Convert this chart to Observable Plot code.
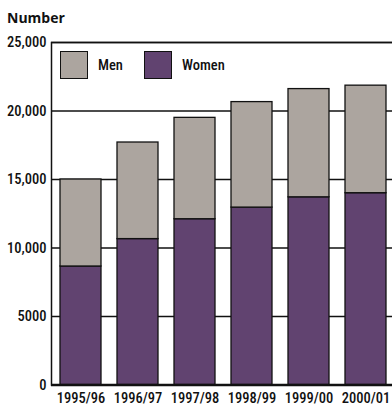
<!DOCTYPE html>
<html>
<head>
<meta charset="utf-8">
<script src="https://cdn.jsdelivr.net/npm/d3@7"></script>
<script src="https://cdn.jsdelivr.net/npm/@observablehq/plot@0.6"></script>
<style>
  html, body { margin: 0; padding: 0; background: #fff; overflow: hidden; }
  #wrap { position: relative; width: 392px; height: 409px; overflow: hidden; }
  #title { position: absolute; left: 7px; top: 8px; font: bold 14px "Open Sans", sans-serif; color: #111; }
  .legend { position: absolute; top: 51px; display: flex; align-items: center; font: 500 14.5px "Roboto Condensed", sans-serif; color: #111; }
  .legend .sw { width: 28px; height: 28px; border: 1.3px solid #111; box-sizing: border-box; margin-right: 10px; }
  #wrap svg { position: absolute; left: 0; top: 0; max-width: none !important; }
</style>
</head>
<body>
<div id="wrap">
  <div id="title">Number</div>
</div>
<script>
// Students by academic year, split by sex
const years = ["1995/96", "1996/97", "1997/98", "1998/99", "1999/00", "2000/01"];
const women = [8650, 10650, 12100, 12950, 13700, 14000];
const men = [6350, 7050, 7400, 7700, 7900, 7850];
const series = ["Women", "Men"];
const colors = ["#614370", "#aca59f"];
const yTicks = [0, 5000, 10000, 15000, 20000, 25000];

const rows = years.flatMap((year, i) => [
  {year, sex: "Women", value: women[i]},
  {year, sex: "Men", value: men[i]}
]);

const fmt = d => d >= 10000 ? d3.format(",")(d) : String(d);

const chart = Plot.plot({
  width: 395,
  height: 409,
  marginLeft: 51,
  marginRight: 0,
  marginTop: 42,
  marginBottom: 24.5,
  style: {fontFamily: "'Roboto Condensed', sans-serif", fontSize: "14.5px", fontWeight: 500, color: "#111", background: "transparent", maxWidth: "none"},
  x: {domain: years, paddingInner: 0.275, paddingOuter: 0.145, label: null},
  y: {domain: [0, 25000], ticks: yTicks, label: null},
  color: {domain: series, range: colors},
  marks: [
    Plot.gridY(yTicks, {stroke: "#111", strokeOpacity: 1, strokeWidth: 1.3}),
    Plot.barY(rows, Plot.stackY({x: "year", y: "value", fill: "sex", order: series, stroke: "#111", strokeWidth: 1.3})),
    Plot.frame({stroke: "#111", strokeWidth: 1.5}),
    Plot.ruleY([0], {stroke: "#111", strokeWidth: 2.5}),
    Plot.axisY(yTicks, {tickSize: 0, tickPadding: 5, tickFormat: fmt, fontSize: 14.5}),
    Plot.axisX({tickSize: 0, tickPadding: 8, fontSize: 14.5})
  ]
});

const wrap = document.getElementById("wrap");
wrap.appendChild(chart);

// Legend drawn over the top-left corner of the plot area
const legendItems = [["Men", colors[1], 60], ["Women", colors[0], 144]];
for (const [name, col, left] of legendItems) {
  const item = document.createElement("div");
  item.className = "legend";
  item.style.left = left + "px";
  const sw = document.createElement("div");
  sw.className = "sw";
  sw.style.background = col;
  const label = document.createElement("span");
  label.textContent = name;
  item.append(sw, label);
  wrap.appendChild(item);
}
</script>
</body>
</html>
